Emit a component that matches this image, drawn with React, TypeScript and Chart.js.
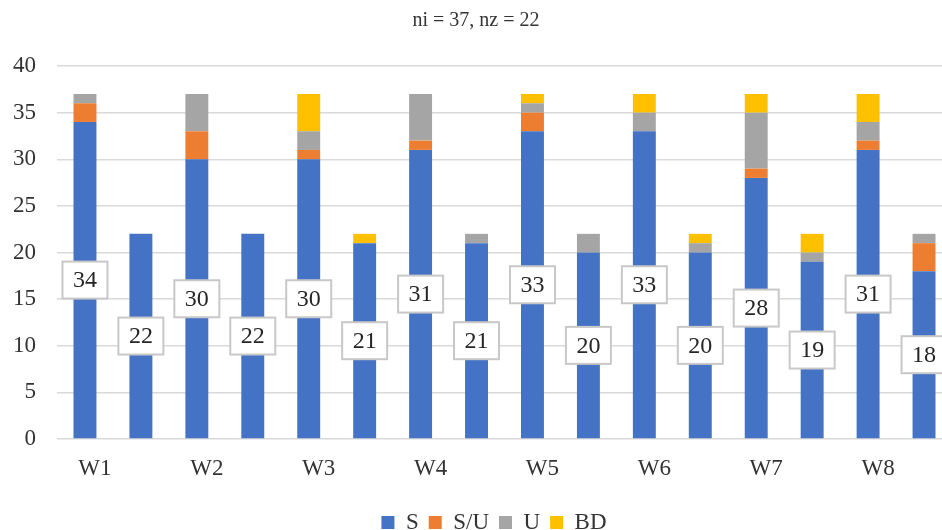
import React, { useEffect, useRef } from "react";
import { Chart, registerables } from "chart.js";

Chart.register(...registerables);

const weeks = ["W1", "W2", "W3", "W4", "W5", "W6", "W7", "W8"];
const titleText = "ni = 37, nz = 22";
const seriesNames = ["S", "S/U", "U", "BD"];
const seriesColors = ["#4472C4", "#ED7D31", "#A5A5A5", "#FFC000"];
const yTicks = [0, 5, 10, 15, 20, 25, 30, 35, 40];

// two bars per week: ni then nz
const S = [34, 22, 30, 22, 30, 21, 31, 21, 33, 20, 33, 20, 28, 19, 31, 18];
const SU = [2, 0, 3, 0, 1, 0, 1, 0, 2, 0, 0, 0, 1, 0, 1, 3];
const U = [1, 0, 4, 0, 2, 0, 5, 1, 1, 2, 2, 1, 6, 1, 2, 1];
const BD = [0, 0, 0, 0, 4, 1, 0, 0, 1, 0, 2, 1, 2, 2, 3, 0];

const FONT = "'Liberation Serif', 'Times New Roman', serif";

export default function App() {
  const ref = useRef<HTMLCanvasElement | null>(null);

  useEffect(() => {
    if (!ref.current) return;
    const labels: string[] = [];
    weeks.forEach((w) => {
      labels.push(w);
      labels.push("");
    });
    const values = [S, SU, U, BD];

    const boxLabels = {
      id: "boxLabels",
      afterDatasetsDraw(chart: any) {
        const ctx = chart.ctx;
        const meta = chart.getDatasetMeta(0);
        ctx.save();
        ctx.font = `24px ${FONT}`;
        meta.data.forEach((bar: any, i: number) => {
          const { x, y, base } = bar.getProps(["x", "y", "base"], true);
          const cy = (y + base) / 2;
          const text = String(S[i]);
          const tw = ctx.measureText(text).width;
          const w = tw + 21;
          const h = 37;
          ctx.fillStyle = "#ffffff";
          ctx.fillRect(x - w / 2, cy - h / 2, w, h);
          ctx.strokeStyle = "#c8c8c8";
          ctx.lineWidth = 2;
          ctx.strokeRect(x - w / 2, cy - h / 2, w, h);
          ctx.fillStyle = "#262626";
          ctx.textAlign = "center";
          ctx.textBaseline = "middle";
          ctx.fillText(text, x, cy + 1);
        });
        ctx.restore();
      },
    };

    const shiftLegend = {
      id: "shiftLegend",
      afterLayout(chart: any) {
        if (chart.legend) {
          chart.legend.left += 18;
          chart.legend.right += 18;
        }
      },
    };

    const chart = new Chart(ref.current, {
      type: "bar",
      data: {
        labels,
        datasets: seriesNames.map((name, k) => ({
          label: name,
          data: values[k],
          backgroundColor: seriesColors[k],
          borderWidth: 0,
          categoryPercentage: 1,
          barPercentage: 0.41,
        })),
      },
      options: {
        responsive: false,
        animation: false,
        devicePixelRatio: 1,
        layout: { padding: 0 },
        plugins: {
          title: {
            display: true,
            text: titleText,
            color: "#333333",
            font: { family: FONT, size: 20, weight: "normal", lineHeight: 1.2 },
            padding: { top: 9, bottom: 33 },
          },
          legend: {
            position: "bottom",
            labels: {
              boxWidth: 13,
              boxHeight: 13,
              padding: 10,
              color: "#333333",
              font: { family: FONT, size: 23 },
            },
          },
          tooltip: { enabled: false },
        },
        scales: {
          x: {
            stacked: true,
            grid: { display: false, drawTicks: false },
            border: { display: false },
            ticks: {
              autoSkip: false,
              maxRotation: 0,
              minRotation: 0,
              labelOffset: 10,
              padding: 16,
              color: "#333333",
              font: { family: FONT, size: 23 },
            },
            afterFit(s: any) {
              s.height = 62;
            },
          },
          y: {
            stacked: true,
            min: 0,
            max: 40,
            afterBuildTicks(s: any) {
              s.ticks = yTicks.map((v) => ({ value: v }));
            },
            grid: { color: "#d9d9d9", lineWidth: 1.5, drawTicks: false },
            border: { display: false },
            ticks: {
              padding: 21,
              color: "#333333",
              font: { family: FONT, size: 23 },
            },
            afterFit(s: any) {
              s.width = 57;
            },
          },
        },
      },
      plugins: [boxLabels, shiftLegend],
    });
    return () => chart.destroy();
  }, []);

  return (
    <div
      style={{
        position: "fixed",
        left: 0,
        top: 0,
        width: 942,
        height: 530,
        overflow: "hidden",
        background: "#ffffff",
      }}
    >
      <canvas ref={ref} width={952} height={544} style={{ display: "block" }} />
    </div>
  );
}
